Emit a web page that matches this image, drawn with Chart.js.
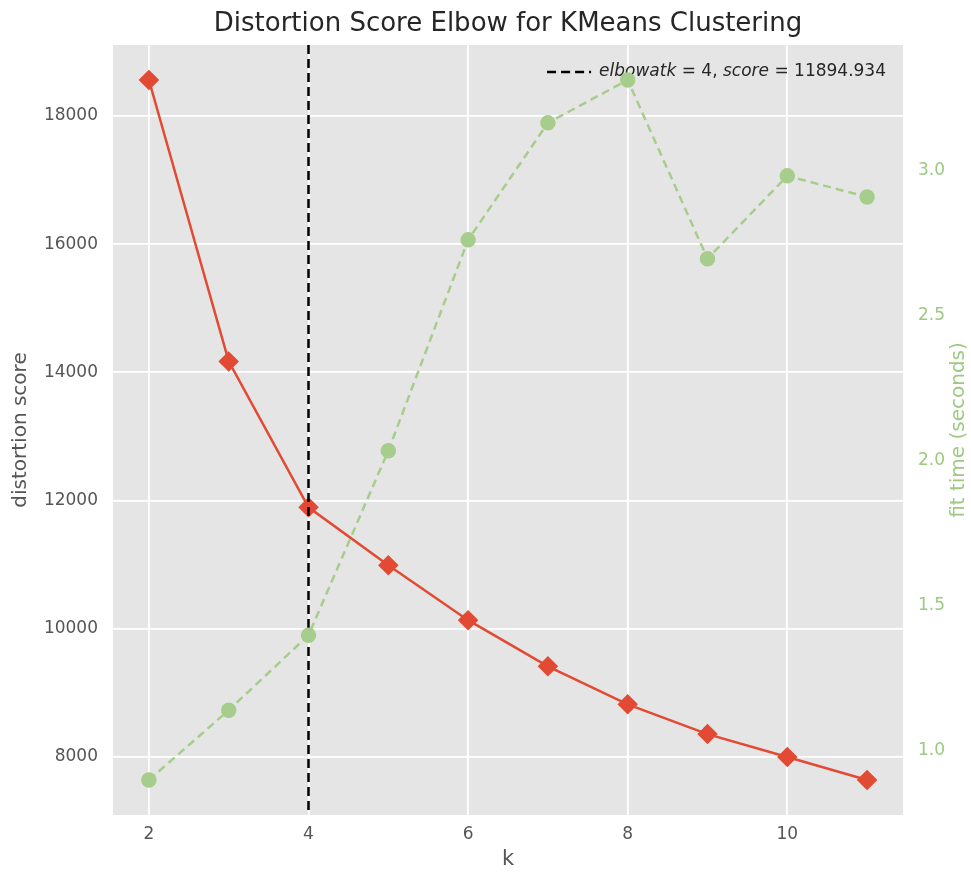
<!DOCTYPE html>
<html>
<head>
<meta charset="utf-8">
<script src="https://cdn.jsdelivr.net/npm/chart.js@4.4.1/dist/chart.umd.min.js"></script>
<style>
  html, body { margin: 0; padding: 0; background: #ffffff; }
  #wrap { width: 971px; height: 872px; }
</style>
</head>
<body>
<div id="wrap"><canvas id="c" width="971" height="872"></canvas></div>
<script>
// Number of clusters tried
const ks = [2, 3, 4, 5, 6, 7, 8, 9, 10, 11];
// Distortion (sum of squared distances) per k
const distortion = [18560, 14171, 11894.934, 10990, 10135, 9415, 8822, 8358, 8000, 7642];
// Fit time in seconds per k
const fitTime = [0.897, 1.138, 1.397, 2.034, 2.762, 3.166, 3.314, 2.697, 2.983, 2.910];

const xTicks = [2, 4, 6, 8, 10];
const leftTicks = [8000, 10000, 12000, 14000, 16000, 18000];
const rightTicks = [1.0, 1.5, 2.0, 2.5, 3.0];

const elbowK = 4;
const elbowScore = 11894.934;

const FONT = "'DejaVu Sans', 'Liberation Sans', sans-serif";
const RED = '#E24A33';
const GREEN_LINE = '#A7CD8D';
const GREEN_TEXT = '#9DC981';
const GREY_TEXT = '#555555';

// 5% margins around the data, matplotlib style
function padded(values) {
  const lo = Math.min(...values), hi = Math.max(...values);
  const m = (hi - lo) * 0.05;
  return { min: lo - m, max: hi + m };
}
const xLim = padded(ks);
const yLim = padded(distortion);
const y1Lim = padded(fitTime);

const distortionPts = ks.map((k, i) => ({ x: k, y: distortion[i] }));
const fitTimePts = ks.map((k, i) => ({ x: k, y: fitTime[i] }));

const fixedTicks = list => scale => { scale.ticks = list.map(v => ({ value: v })); };

const decorations = {
  id: 'decorations',
  beforeDraw(chart) {
    const { ctx, chartArea: a } = chart;
    ctx.save();
    ctx.fillStyle = '#E5E5E5';
    ctx.fillRect(a.left, a.top, a.right - a.left, a.bottom - a.top);
    ctx.restore();
  },
  afterDatasetDraw(chart, args) {
    if (args.index !== 0) return;
    const { ctx, chartArea: a } = chart;
    const xs = chart.scales.x;
    const ex = xs.getPixelForValue(elbowK);

    // elbow marker line
    ctx.save();
    ctx.strokeStyle = '#000000';
    ctx.lineWidth = 2.5;
    ctx.setLineDash([9, 5]);
    ctx.beginPath();
    ctx.moveTo(ex, a.top);
    ctx.lineTo(ex, a.bottom);
    ctx.stroke();
    ctx.restore();

    // legend entry
    const parts = [
      { t: 'elbowatk', it: true },
      { t: ' = 4, ', it: false },
      { t: 'score', it: true },
      { t: ' = ' + elbowScore.toFixed(3), it: false }
    ];
    const size = 17;
    ctx.save();
    let total = 0;
    parts.forEach(p => {
      ctx.font = (p.it ? 'italic ' : '') + size + 'px ' + FONT;
      p.w = ctx.measureText(p.t).width;
      total += p.w;
    });
    const ly = a.top + 27;
    let tx = a.right - 17 - total;
    ctx.strokeStyle = '#000000';
    ctx.lineWidth = 2.5;
    ctx.setLineDash([9, 5]);
    ctx.beginPath();
    ctx.moveTo(tx - 52, ly);
    ctx.lineTo(tx - 8, ly);
    ctx.stroke();
    ctx.setLineDash([]);
    ctx.fillStyle = '#262626';
    ctx.textBaseline = 'middle';
    ctx.textAlign = 'left';
    parts.forEach(p => {
      ctx.font = (p.it ? 'italic ' : '') + size + 'px ' + FONT;
      ctx.fillText(p.t, tx, ly);
      tx += p.w;
    });
    ctx.restore();
  },
  afterDraw(chart) {
    const { ctx, chartArea: a } = chart;
    ctx.save();
    // chart title
    ctx.fillStyle = '#262626';
    ctx.font = '26px ' + FONT;
    ctx.textAlign = 'center';
    ctx.textBaseline = 'middle';
    ctx.fillText('Distortion Score Elbow for KMeans Clustering', (a.left + a.right) / 2, 24);
    // right axis title, reading upwards
    ctx.translate(959, (a.top + a.bottom) / 2);
    ctx.rotate(-Math.PI / 2);
    ctx.fillStyle = GREEN_TEXT;
    ctx.font = '20px ' + FONT;
    ctx.fillText('fit time (seconds)', 0, 0);
    ctx.restore();
  }
};

new Chart(document.getElementById('c'), {
  type: 'line',
  data: {
    datasets: [
      {
        label: 'distortion score',
        data: distortionPts,
        yAxisID: 'y',
        order: 2,
        borderColor: RED,
        backgroundColor: RED,
        borderWidth: 2.5,
        pointStyle: 'rectRot',
        pointRadius: 8.5,
        pointHoverRadius: 8.5,
        tension: 0
      },
      {
        label: 'fit time',
        data: fitTimePts,
        yAxisID: 'y1',
        order: 1,
        borderColor: GREEN_LINE,
        backgroundColor: GREEN_LINE,
        borderWidth: 2.5,
        borderDash: [8, 5],
        pointStyle: 'circle',
        pointRadius: 6.5,
        pointHoverRadius: 6.5,
        tension: 0
      }
    ]
  },
  options: {
    responsive: false,
    animation: false,
    devicePixelRatio: 1,
    layout: { padding: { top: 45, left: 0, right: 0, bottom: 0 } },
    plugins: {
      legend: { display: false },
      title: { display: false },
      tooltip: { enabled: false }
    },
    scales: {
      x: {
        type: 'linear',
        min: xLim.min,
        max: xLim.max,
        afterBuildTicks: fixedTicks(xTicks),
        afterFit(s) { s.height = 57; },
        border: { display: false },
        grid: { color: '#FFFFFF', lineWidth: 1.8, drawTicks: false },
        ticks: { color: GREY_TEXT, font: { family: FONT, size: 17 }, padding: 9 },
        title: { display: true, text: 'k', color: GREY_TEXT, font: { family: FONT, size: 21 }, padding: { top: 0, bottom: 0 } }
      },
      y: {
        type: 'linear',
        position: 'left',
        min: yLim.min,
        max: yLim.max,
        afterBuildTicks: fixedTicks(leftTicks),
        afterFit(s) { s.width = 113; },
        border: { display: false },
        grid: { color: '#FFFFFF', lineWidth: 1.8, drawTicks: false },
        ticks: { color: GREY_TEXT, font: { family: FONT, size: 17 }, padding: 15, callback: v => String(v) },
        title: { display: true, text: 'distortion score', color: GREY_TEXT, font: { family: FONT, size: 20 }, padding: { top: 9, bottom: 0 } }
      },
      y1: {
        type: 'linear',
        position: 'right',
        min: y1Lim.min,
        max: y1Lim.max,
        afterBuildTicks: fixedTicks(rightTicks),
        afterFit(s) { s.width = 68; },
        border: { display: false },
        grid: { display: false, drawTicks: false },
        ticks: { color: GREEN_TEXT, font: { family: FONT, size: 17 }, padding: 15, callback: v => v.toFixed(1) }
      }
    }
  },
  plugins: [decorations]
});
</script>
</body>
</html>
